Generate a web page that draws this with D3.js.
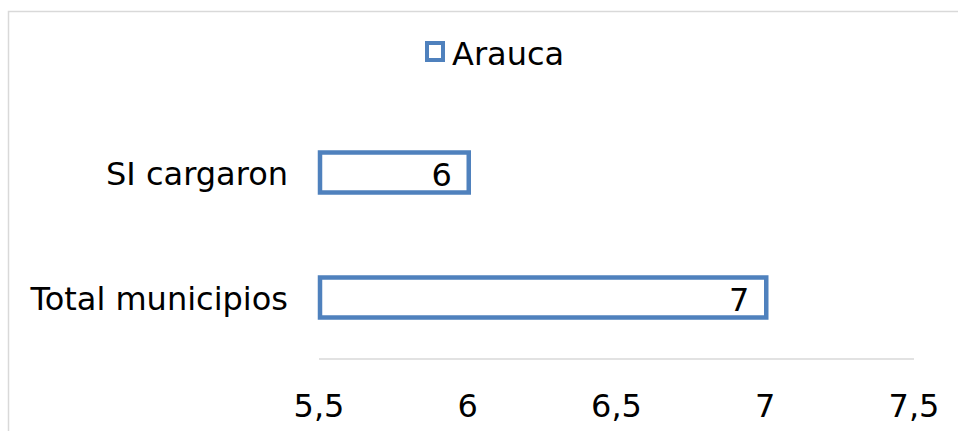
<!DOCTYPE html>
<html>
<head>
<meta charset="utf-8">
<script src="https://cdn.jsdelivr.net/npm/d3@7"></script>
<style>
  html, body { margin: 0; padding: 0; background: #fff; }
  svg { display: block; }
  text { font-family: Verdana, "DejaVu Sans", sans-serif; fill: #000; }
</style>
</head>
<body>
<svg id="chart" width="958" height="431"></svg>
<script>
// Municipalities in Arauca: total vs. those that uploaded
const categories = ["SI cargaron", "Total municipios"];
const seriesName = "Arauca";
const values = [6, 7];
const tickValues = [5.5, 6, 6.5, 7, 7.5];
const tickLabels = ["5,5", "6", "6,5", "7", "7,5"];

const W = 958, H = 431;
const blue = "#4f81bd";
const fontSize = 32;
const svg = d3.select("#chart");

// outer frame
svg.append("rect")
  .attr("x", 8.5).attr("y", 11.5)
  .attr("width", W).attr("height", H)
  .attr("fill", "none").attr("stroke", "#d9d9d9").attr("stroke-width", 1.5);

const x = d3.scaleLinear().domain([5.5, 7.5]).range([319, 914]);
const y = d3.scaleBand().domain(categories).range([110, 360])
  .paddingInner(0.68).paddingOuter(0.34);

// horizontal axis baseline
svg.append("line")
  .attr("x1", x.range()[0]).attr("x2", x.range()[1])
  .attr("y1", 359).attr("y2", 359)
  .attr("stroke", "#d9d9d9").attr("stroke-width", 1.5);

// tick labels
svg.append("g").selectAll("text").data(tickValues).join("text")
  .attr("x", d => x(d)).attr("y", 417)
  .attr("text-anchor", "middle")
  .attr("font-size", fontSize)
  .text((d, i) => tickLabels[i]);

// category labels
svg.append("g").selectAll("text").data(categories).join("text")
  .attr("x", 288).attr("y", d => y(d) + y.bandwidth() / 2 + 12)
  .attr("text-anchor", "end")
  .attr("font-size", fontSize)
  .text(d => d);

// bars
const bars = categories.map((c, i) => ({ c, v: values[i] }));
svg.append("g").selectAll("rect").data(bars).join("rect")
  .attr("x", x.range()[0] + 1)
  .attr("y", d => y(d.c))
  .attr("width", d => x(d.v) - x.range()[0])
  .attr("height", y.bandwidth())
  .attr("fill", "#fff").attr("stroke", blue).attr("stroke-width", 4.5);

// value labels
svg.append("g").selectAll("text").data(bars).join("text")
  .attr("x", d => x(d.v) - 16)
  .attr("y", d => y(d.c) + y.bandwidth() / 2 + 13)
  .attr("text-anchor", "end")
  .attr("font-size", fontSize)
  .text(d => d.v);

// legend
const lg = svg.append("g");
lg.append("rect")
  .attr("x", 427).attr("y", 43).attr("width", 16).attr("height", 17)
  .attr("fill", "#fff").attr("stroke", blue).attr("stroke-width", 4);
lg.append("text")
  .attr("x", 452).attr("y", 65)
  .attr("font-size", fontSize)
  .text(seriesName);
</script>
</body>
</html>
